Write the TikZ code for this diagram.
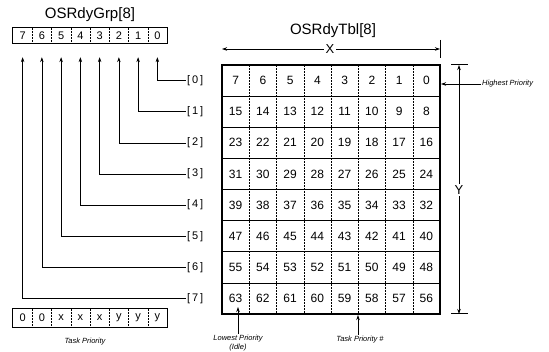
\documentclass[tikz,border=0pt]{standalone}
\usepackage{fontspec}
\setmainfont{Liberation Sans}
\usetikzlibrary{arrows.meta}
\begin{document}
\begin{tikzpicture}[x=1pt,y=-1pt,
 cell/.style={inner sep=0pt, minimum width=19.25pt, minimum height=15pt, font=\fontsize{11}{12}\selectfont},
 bcell/.style={inner sep=0pt, minimum width=19.25pt, minimum height=18pt, font=\fontsize{11}{12}\selectfont},
 tcell/.style={inner sep=0pt, minimum width=27.25pt, minimum height=31.125pt, font=\fontsize{12}{13}\selectfont},
 tip/.style={-{Stealth[length=5pt,width=3.5pt]}},
 conn/.style={line width=0.6pt, {Stealth[length=5pt,width=3.5pt]}-},
 lbl/.style={font=\fontsize{11}{12}\selectfont, inner sep=1pt, anchor=west},
 note/.style={font=\itshape\fontsize{7.5}{8.5}\selectfont, inner sep=1pt},
 ttl/.style={font=\fontsize{15}{17}\selectfont}]
\useasboundingbox (0,0) rectangle (549,352);
% titles
\node[ttl] (gt) at (90,15) {OSRdyGrp[8]};
\node[ttl] (tt) at (333,31) {OSRdyTbl[8]};
% OSRdyGrp cells
\foreach \i in {0,...,7}{
  \node[cell] (g\i) at ({13+19.25*(7-\i)+9.625},35.5) {\i};
}
\draw[line width=1pt] (g7.north west) rectangle (g0.south east);
\foreach \i in {1,...,7}{
  \draw[densely dotted, line width=0.5pt] (g\i.north east) -- (g\i.south east);
}
% row labels
\foreach \i in {0,...,7}{
  \node[lbl] (r\i) at (186,{65+31.125*(\i+0.5)}) {[\,\i\,]};
  \draw[conn, shorten <=14pt] (g\i.south) |- (r\i.west);
}
% table cells
\foreach \r in {0,...,7}{
  \foreach \c in {0,...,7}{
    \pgfmathtruncatemacro\v{8*\r+7-\c}
    \node[tcell] (t\r-\c) at ({222+27.25*(\c+0.5)},{65+31.125*(\r+0.5)}) {\v};
  }
}
\foreach \r in {0,...,6}{
  \draw[line width=0.9pt] (t\r-0.south west) -- (t\r-7.south east);
}
\foreach \c in {0,...,6}{
  \draw[densely dotted, line width=0.5pt] (t0-\c.north east) -- (t7-\c.south east);
}
\draw[line width=1.6pt] (t0-0.north west) rectangle (t7-7.south east);
% X dimension
\node[fill=white, inner sep=1.5pt, font=\fontsize{13}{15}\selectfont] (X) at (330,49) {X};
\coordinate (xl) at (222,49);
\coordinate (xr) at (440,49);
\draw[tip, line width=0.7pt] (X.west) -- (xl);
\draw[tip, line width=0.7pt] (X.east) -- (xr);
\coordinate (xt1) at (440,40);
\coordinate (xt2) at (440,58);
\draw[line width=0.7pt] (xt1) -- (xt2);
% Y dimension
\node[fill=white, inner sep=1.5pt, font=\fontsize{13}{15}\selectfont] (Y) at (459,190) {Y};
\coordinate (yt) at (459,65);
\coordinate (yb) at (459,314);
\draw[tip, line width=0.7pt] (Y.north) -- (yt);
\draw[tip, line width=0.7pt] (Y.south) -- (yb);
\coordinate (yt1) at (451,65);
\coordinate (yt2) at (468,65);
\coordinate (yb1) at (451,314);
\coordinate (yb2) at (468,314);
\draw[line width=1pt] (yt1) -- (yt2);
\draw[line width=1pt] (yb1) -- (yb2);
% Highest priority
\node[note, anchor=west] (hp) at (481,84) {Highest Priority};
\coordinate (hpe) at (441,84);
\draw[tip, line width=0.7pt] (hp.west) -- (hpe);
% Lowest priority
\node[note, align=center, anchor=north] (lp) at (238,334) {Lowest Priority\\(Idle)};
\coordinate (lpe) at (238,307);
\draw[tip, line width=0.7pt] (lp.north) -- (lpe);
% Task priority #
\node[note, anchor=north] (tp) at (360,335) {Task Priority \#};
\coordinate (tpe) at (358,315);
\draw[tip, line width=0.7pt] (tp.north -| tpe) -- (tpe);
% Task priority box
\foreach \t [count=\k from 0] in {0,0,x,x,x,y,y,y}{
  \node[bcell] (b\k) at ({13+19.25*\k+9.625},318) {\t};
}
\draw[line width=1pt] (b0.north west) rectangle (b7.south east);
\foreach \k in {0,...,6}{
  \draw[densely dotted, line width=0.5pt] (b\k.north east) -- (b\k.south east);
}
\node[note] (tpl) at (85,342) {Task Priority};
\end{tikzpicture}
\end{document}
